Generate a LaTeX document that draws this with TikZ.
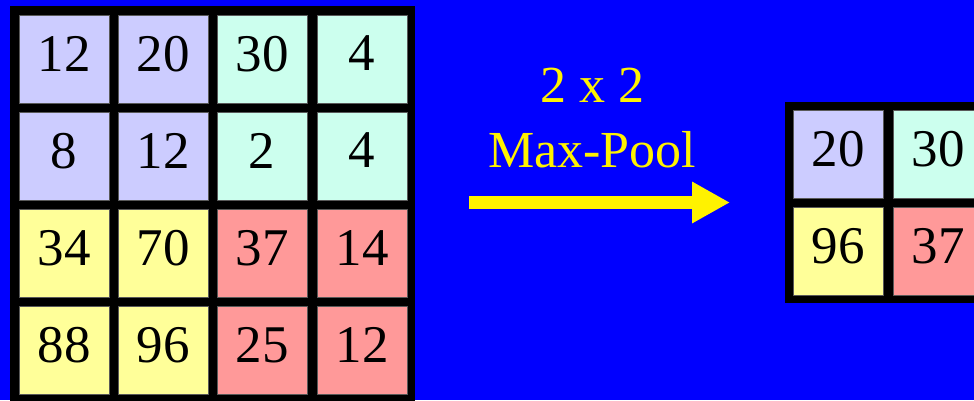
\documentclass[tikz,border=0pt]{standalone}
\usepackage{fontspec}
\setmainfont{Liberation Serif}
\usepackage{xcolor}
\usepackage{tikz}
\usetikzlibrary{arrows.meta}

\definecolor{poolblue}{RGB}{0,0,255}
\definecolor{cellpurple}{RGB}{204,204,255}
\definecolor{cellmint}{RGB}{204,255,238}
\definecolor{cellyellow}{RGB}{255,255,153}
\definecolor{cellred}{RGB}{255,153,153}

\begin{document}
\begin{tikzpicture}[
        x=1pt, y=-1pt,
        cell/.style={rectangle, draw=black!65, line width=0.6pt, minimum width=90pt, minimum height=88pt, inner sep=0pt, text depth=11pt, font=\fontsize{53}{60}\selectfont},
        pooltext/.style={text=yellow, anchor=base, inner sep=0pt, font=\fontsize{52}{60}\selectfont},
    ]
        \clip (0,0) rectangle (974,400);
        \fill[poolblue] (0,0) rectangle (974,400);
        
        % Frames
        \fill[black] (10,6) rectangle (415,410);
        \fill[black] (785,102) rectangle (990,303);
        
        % Input
        \node[cell, fill=cellpurple] (in11) at (64,59) {12};
        \node[cell, fill=cellpurple] (in12) at (163,59) {20};
        \node[cell, fill=cellmint] (in13) at (262,59) {30};
        \node[cell, fill=cellmint] (in14) at (362,59) {4};
        \node[cell, fill=cellpurple] (in21) at (64,156) {8};
        \node[cell, fill=cellpurple] (in22) at (163,156) {12};
        \node[cell, fill=cellmint] (in23) at (262,156) {2};
        \node[cell, fill=cellmint] (in24) at (362,156) {4};
        \node[cell, fill=cellyellow] (in31) at (64,253) {34};
        \node[cell, fill=cellyellow] (in32) at (163,253) {70};
        \node[cell, fill=cellred] (in33) at (262,253) {37};
        \node[cell, fill=cellred] (in34) at (362,253) {14};
        \node[cell, fill=cellyellow] (in41) at (64,350) {88};
        \node[cell, fill=cellyellow] (in42) at (163,350) {96};
        \node[cell, fill=cellred] (in43) at (262,350) {25};
        \node[cell, fill=cellred] (in44) at (362,350) {12};
        
        % Output
        \node[cell, fill=cellpurple] (out11) at (838,154) {20};
        \node[cell, fill=cellmint] (out12) at (938,154) {30};
        \node[cell, fill=cellyellow] (out21) at (838,251) {96};
        \node[cell, fill=cellred] (out22) at (938,251) {37};
        
        % Pooling
        \node[pooltext] (size) at (592,102) {2 x 2};
        \node[pooltext] (op) at (592,167) {Max-Pool};
        \coordinate (pstart) at (469,202.5);
        \coordinate (pend) at (730,202.5);
        \draw[yellow, line width=13pt, -{Triangle[length=38pt, width=39pt]}] (pstart) -- (pend);
        
    \end{tikzpicture}
\end{document}
